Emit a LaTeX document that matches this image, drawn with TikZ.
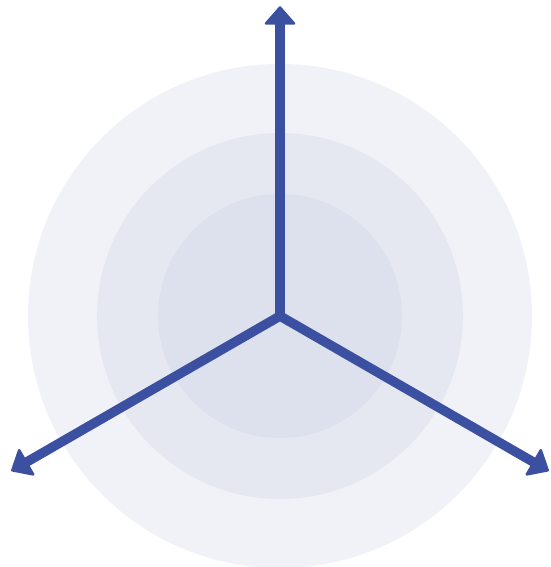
\documentclass[tikz,border=0pt]{standalone}
\definecolor{ringA}{HTML}{F1F2F7}
\definecolor{ringB}{HTML}{E5E8F1}
\definecolor{ringC}{HTML}{DCE1ED}
\definecolor{axiscol}{HTML}{3B50A0}
\tikzset{
  axisline/.style={draw=axiscol, line width=9.5pt},
  axishead/.style={fill=axiscol, draw=axiscol, line width=2.5pt, line join=round},
}
\begin{document}
\begin{tikzpicture}[x=1pt,y=-1pt]
\useasboundingbox (0,0) rectangle (550,567);
\coordinate (o) at (280,316);
\fill[ringA] (o) circle (252);
\fill[ringB] (o) circle (183);
\fill[ringC] (o) circle (122);
% up arrow
\coordinate (up) at (280,7.5);
\coordinate (upbase) at (280,23.5);
\coordinate (upA) at (266,23.5);
\coordinate (upB) at (294,23.5);
% left arrow
\coordinate (left) at (12.3,470.3);
\coordinate (leftbase) at (26.2,462.3);
\coordinate (leftA) at (33.2,474.4);
\coordinate (leftB) at (19.2,450.2);
% right arrow
\coordinate (right) at (547.7,470.3);
\coordinate (rightbase) at (533.8,462.3);
\coordinate (rightA) at (526.8,474.4);
\coordinate (rightB) at (540.8,450.2);
\draw[axisline] (o) -- (upbase);
\draw[axisline] (o) -- (leftbase);
\draw[axisline] (o) -- (rightbase);
\filldraw[axishead] (up) -- (upA) -- (upB) -- cycle;
\filldraw[axishead] (left) -- (leftA) -- (leftB) -- cycle;
\filldraw[axishead] (right) -- (rightA) -- (rightB) -- cycle;
\fill[axiscol] (o) circle (4.75);
\end{tikzpicture}
\end{document}
